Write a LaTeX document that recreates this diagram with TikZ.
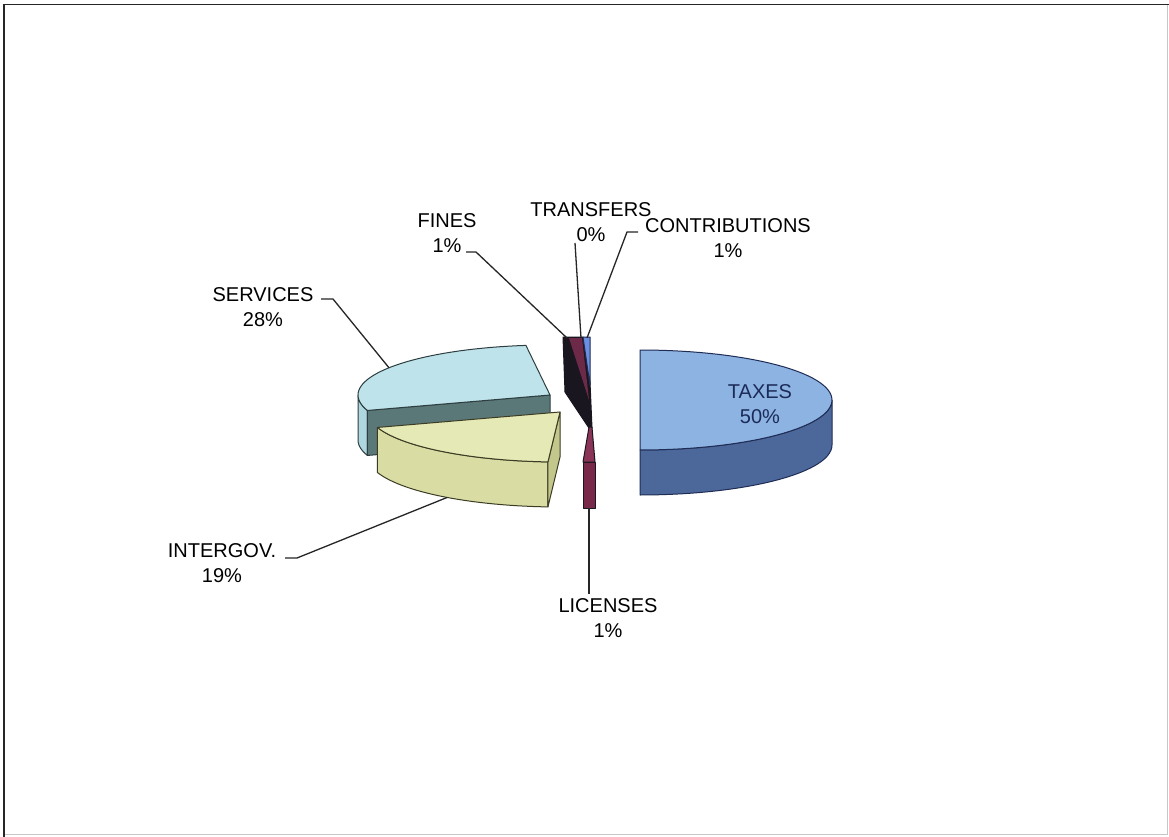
\documentclass[tikz,border=0pt]{standalone}
\usepackage{fontspec}
\setmainfont{Liberation Sans}
\definecolor{svtop}{HTML}{BEE3EB}
\definecolor{svside}{HTML}{AFD7E0}
\definecolor{svface}{HTML}{5B7878}
\definecolor{svline}{HTML}{2E3E40}
\definecolor{igtop}{HTML}{E5E9B5}
\definecolor{igside}{HTML}{D9DDA3}
\definecolor{igface}{HTML}{C4C78C}
\definecolor{igline}{HTML}{3C3C24}
\definecolor{txtop}{HTML}{8CB3E2}
\definecolor{txside}{HTML}{4C689B}
\definecolor{txline}{HTML}{1F2D55}
\definecolor{txtext}{HTML}{1C2A58}
\definecolor{fndark}{HTML}{1A1620}
\definecolor{fnred}{HTML}{7C2D50}
\definecolor{ctblue}{HTML}{6C8FE2}
\definecolor{lcred}{HTML}{8A3558}
\definecolor{lcside}{HTML}{78294A}
\begin{document}
\begin{tikzpicture}[x=1pt,y=-1pt,
  lbl/.style={font=\fontsize{20}{24.5}\selectfont, align=center, inner sep=0pt, text=black},
  leader/.style={draw=black!85, line width=1.3pt},
  edge/.style={line width=1pt, line join=round},
]
\useasboundingbox (0,0) rectangle (1169,837);
\fill[white] (0,0) rectangle (1169,837);
% frame
\draw[black!22, line width=1pt] (1167,5) -- (1167,834) -- (4,834);
\draw[black!85, line width=1.6pt] (4,837) -- (4,4.5) -- (1169,4.5);

% ---------- small back slices (FINES, CONTRIBUTIONS)
\filldraw[fill=fndark, draw=fndark, edge] (563,337) -- (583,337) -- (590,382) -- (592,428) -- (589,428) -- (565,392) -- cycle;
\fill[fnred, opacity=0.85] (569,338) -- (582,338) -- (589,400) -- cycle;
\filldraw[fill=ctblue, draw=txline, edge] (583,337) -- (590,337) -- (590,385) -- cycle;

% ---------- SERVICES 28%
\filldraw[fill=svside, draw=svline, edge] plot[domain=162:180, samples=15] ({550+192*cos(\x)},{395+50*sin(\x)}) -- plot[domain=180:162, samples=15] ({550+192*cos(\x)},{440+50*sin(\x)}) -- cycle;
\filldraw[fill=svface, draw=svline, edge] (550,395) -- ({550+192*cos(162)},{395+50*sin(162)}) -- ({550+192*cos(162)},{440+50*sin(162)}) -- (550,440) -- cycle;
\filldraw[fill=svtop, draw=svline, edge] (550,395) -- plot[domain=162:262.8, samples=40] ({550+192*cos(\x)},{395+50*sin(\x)}) -- cycle;

% ---------- INTERGOV 19%
\filldraw[fill=igside, draw=igline, edge] plot[domain=93.6:162, samples=30] ({560+192*cos(\x)},{412+50*sin(\x)}) -- plot[domain=162:93.6, samples=30] ({560+192*cos(\x)},{457+50*sin(\x)}) -- cycle;
\filldraw[fill=igface, draw=igline, edge] (560,412) -- ({560+192*cos(93.6)},{412+50*sin(93.6)}) -- ({560+192*cos(93.6)},{457+50*sin(93.6)}) -- (560,457) -- cycle;
\filldraw[fill=igtop, draw=igline, edge] (560,412) -- plot[domain=93.6:162, samples=30] ({560+192*cos(\x)},{412+50*sin(\x)}) -- cycle;

% ---------- TAXES 50%
\filldraw[fill=txside, draw=txline, edge] plot[domain=0:90, samples=30] ({640+192*cos(\x)},{400+50*sin(\x)}) -- plot[domain=90:0, samples=30] ({640+192*cos(\x)},{445+50*sin(\x)}) -- cycle;
\filldraw[fill=txtop, draw=txline, edge] (640,350) -- plot[domain=-90:90, samples=60] ({640+192*cos(\x)},{400+50*sin(\x)}) -- cycle;

% ---------- LICENSES 1%
\filldraw[fill=lcside, draw=fndark, edge] (583,462) rectangle (595,508);
\filldraw[fill=lcred, draw=fndark, edge] (589,427) -- (592,427) -- (595,462) -- (583,462) -- cycle;

% ---------- labels
\node[lbl] (services) at (263,307) {SERVICES\\28\%};
\node[lbl] (intergov) at (222,563) {INTERGOV.\\19\%};
\node[lbl] (licenses) at (608,618) {LICENSES\\1\%};
\node[lbl] (fines) at (447,233) {FINES\\1\%};
\node[lbl] (transfers) at (591,222) {TRANSFERS\\0\%};
\node[lbl] (contrib) at (728,238) {CONTRIBUTIONS\\1\%};
\node[lbl, text=txtext] (taxes) at (760,404) {TAXES\\50\%};

% ---------- leader lines
\coordinate (svA) at (321,299);
\coordinate (svB) at (333,299);
\coordinate (svP) at ({550+192*cos(213)},{395+50*sin(213)});
\draw[leader] (svA) -- (svB) -- (svP);

\coordinate (igA) at (285,558);
\coordinate (igB) at (297,558);
\coordinate (igP) at ({560+192*cos(126)},{457+50*sin(126)});
\draw[leader] (igA) -- (igB) -- (igP);

\coordinate (fnA) at (466,252);
\coordinate (fnB) at (476,252);
\coordinate (fnP) at (567,338);
\draw[leader] (fnA) -- (fnB) -- (fnP);

\coordinate (trA) at (575,243);
\coordinate (trP) at (581,338);
\draw[leader] (trA) -- (trP);

\coordinate (ctA) at (638,232);
\coordinate (ctB) at (627,232);
\coordinate (ctP) at (587,338);
\draw[leader] (ctA) -- (ctB) -- (ctP);

\coordinate (lcP) at (589,508);
\coordinate (lcA) at (589,594);
\draw[leader] (lcP) -- (lcA);
\end{tikzpicture}
\end{document}
